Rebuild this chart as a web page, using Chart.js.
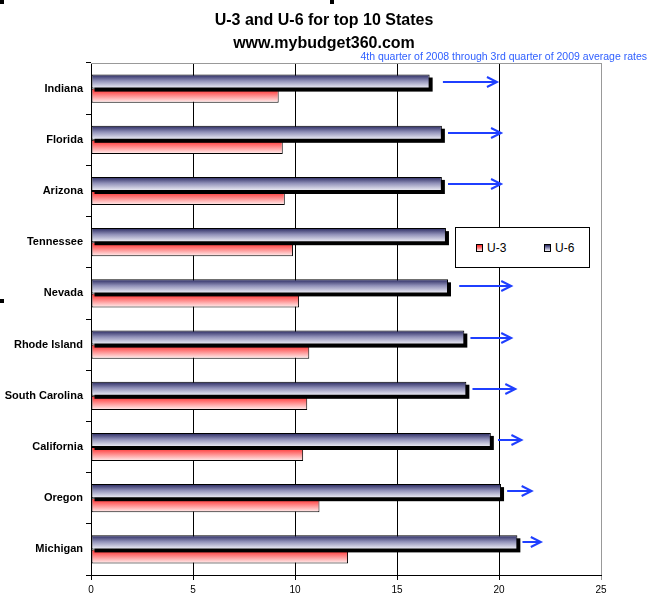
<!DOCTYPE html>
<html>
<head>
<meta charset="utf-8">
<script src="https://cdn.jsdelivr.net/npm/chart.js@4.4.0/dist/chart.umd.min.js"></script>
<style>
  html, body { margin: 0; padding: 0; background: #fff; }
  #wrap { position: relative; width: 666px; height: 602px; }
  canvas { display: block; }
  #legend {
    position: absolute; left: 455px; top: 227px; width: 133px; height: 39px;
    border: 1px solid #000; background: #fff;
    font: 12px Arial, "Liberation Sans", sans-serif; color: #000;
  }
  #legend .item { position: absolute; top: 0; height: 39px; display: flex; align-items: center; }
  #legend .sw { width: 5px; height: 6px; border: 1px solid #000; margin-right: 4px; }
</style>
</head>
<body>
<div id="wrap">
  <canvas id="chart" width="666" height="602"></canvas>
  <div id="legend"></div>
</div>
<script>
// data (percent)
const states = ['Indiana', 'Florida', 'Arizona', 'Tennessee', 'Nevada', 'Rhode Island',
  'South Carolina', 'California', 'Oregon', 'Michigan'];
const u3 = [9.2, 9.4, 9.5, 9.9, 10.2, 10.7, 10.6, 10.4, 11.2, 12.6];
const u6 = [16.6, 17.2, 17.2, 17.4, 17.5, 18.3, 18.4, 19.6, 20.1, 20.9];

// blue arrows next to the U-6 bars (start / end, in axis units)
const arrowFrom = [17.25, 17.5, 17.5, null, 18.05, 18.6, 18.7, 19.95, 20.4, 21.15];
const arrowTo = [19.9, 20.1, 20.1, null, 20.6, 20.6, 20.8, 21.1, 21.6, 22.05];

const titleLines = ['U-3 and U-6 for top 10 States', 'www.mybudget360.com'];
const subtitle = '4th quarter of 2008 through 3rd quarter of 2009 average rates';

const catPct = 0.55;
const FONT = 'Arial, "Liberation Sans", sans-serif';

const colU3 = ['#ff2020', '#ff8080', '#fff4f4'];
const colU6 = ['#26265e', '#9090b8', '#f4f4fa'];

// vertical gradient per bar, computed from the category scale
function barFill(cols) {
  return function(c) {
    const chart = c.chart;
    const ys = chart.scales.y;
    if (!chart.chartArea || !ys || c.dataIndex === undefined) return cols[1];
    const center = ys.getPixelForValue(c.dataIndex);
    const band = (ys.bottom - ys.top) / states.length;
    const t = band * catPct / 2;
    const top = c.datasetIndex === 0 ? center - t : center;
    const g = chart.ctx.createLinearGradient(0, top, 0, top + t);
    g.addColorStop(0, cols[0]);
    g.addColorStop(0.45, cols[1]);
    g.addColorStop(1, cols[2]);
    return g;
  };
}

// black drop shadow behind the U-6 bars
const shadowPlugin = {
  id: 'shadow',
  beforeDatasetDraw(chart, args) {
    if (args.index !== 0) return;
    const ctx = chart.ctx;
    ctx.save();
    ctx.fillStyle = '#000';
    args.meta.data.forEach(el => {
      const p = el.getProps(['x', 'y', 'base', 'height'], true);
      ctx.fillRect(p.base + 3, p.y - p.height / 2 + 3, p.x - p.base, p.height);
    });
    ctx.restore();
  }
};

const decorPlugin = {
  id: 'decor',
  beforeDraw(chart) {
    const ctx = chart.ctx;
    ctx.save();
    ctx.fillStyle = '#fff';
    ctx.fillRect(0, 0, chart.width, chart.height);
    ctx.restore();
  },
  afterDatasetsDraw(chart) {
    const ctx = chart.ctx;
    const area = chart.chartArea;
    const xs = chart.scales.x;
    const meta = chart.getDatasetMeta(0);
    ctx.save();
    // gray frame on top
    ctx.strokeStyle = '#999';
    ctx.lineWidth = 1;
    ctx.beginPath();
    ctx.moveTo(area.left, Math.round(area.top) + 0.5);
    ctx.lineTo(area.right, Math.round(area.top) + 0.5);
    ctx.stroke();
    // arrows
    ctx.strokeStyle = '#1f3fff';
    ctx.lineWidth = 2;
    for (let i = 0; i < states.length; i++) {
      if (arrowFrom[i] == null) continue;
      const y = Math.round(meta.data[i].y);
      const x1 = xs.getPixelForValue(arrowFrom[i]);
      const x2 = xs.getPixelForValue(arrowTo[i]);
      ctx.beginPath();
      ctx.moveTo(x1, y);
      ctx.lineTo(x2, y);
      ctx.moveTo(x2 - 10, y - 5);
      ctx.lineTo(x2, y);
      ctx.lineTo(x2 - 10, y + 5);
      ctx.stroke();
    }
    ctx.restore();
  },
  afterDraw(chart) {
    const ctx = chart.ctx;
    ctx.save();
    ctx.fillStyle = '#000';
    ctx.textAlign = 'center';
    ctx.textBaseline = 'middle';
    ctx.font = 'bold 16px ' + FONT;
    ctx.fillText(titleLines[0], 324, 21);
    ctx.fillText(titleLines[1], 324, 44);
    ctx.fillStyle = '#3060ff';
    ctx.font = '10.5px ' + FONT;
    ctx.textAlign = 'right';
    ctx.fillText(subtitle, 647, 57);
    // selection handles
    ctx.fillStyle = '#000';
    ctx.fillRect(0, 0, 4, 4);
    ctx.fillRect(330, 0, 4, 4);
    ctx.fillRect(0, 299, 4, 4);
    ctx.restore();
  }
};

const chart = new Chart(document.getElementById('chart'), {
  type: 'bar',
  data: {
    labels: states,
    datasets: [
      {
        label: 'U-6',
        data: u6,
        backgroundColor: barFill(colU6),
        borderColor: '#000',
        borderWidth: 1,
        borderSkipped: false,
        categoryPercentage: catPct,
        barPercentage: 1
      },
      {
        label: 'U-3',
        data: u3,
        backgroundColor: barFill(colU3),
        borderColor: '#000',
        borderWidth: 1,
        borderSkipped: false,
        categoryPercentage: catPct,
        barPercentage: 1
      }
    ]
  },
  options: {
    indexAxis: 'y',
    responsive: false,
    animation: false,
    layout: { padding: { top: 63, right: 65, bottom: 0, left: 0 } },
    plugins: {
      legend: { display: false },
      title: { display: false },
      tooltip: { enabled: false }
    },
    scales: {
      x: {
        type: 'linear',
        min: 0,
        max: 25,
        ticks: { stepSize: 5, color: '#000', padding: 4, font: { family: FONT, size: 10 } },
        grid: {
          color: c => (c.tick && c.tick.value === 25 ? '#999' : '#000'),
          tickLength: 5,
          lineWidth: 1
        },
        border: { color: '#000' },
        afterFit: s => { s.height = 27; }
      },
      y: {
        type: 'category',
        offset: true,
        ticks: { color: '#000', padding: 3, font: { family: FONT, size: 11, weight: 'bold' } },
        grid: { drawOnChartArea: false, offset: true, tickLength: 5, color: '#000' },
        border: { color: '#000' },
        afterFit: s => { s.width = 91; }
      }
    }
  },
  plugins: [shadowPlugin, decorPlugin]
});

// legend (U-3 first, as in the original)
const legendItems = [
  { name: 'U-3', cols: colU3, left: 20 },
  { name: 'U-6', cols: colU6, left: 88 }
];
const legendEl = document.getElementById('legend');
legendItems.forEach(it => {
  const d = document.createElement('div');
  d.className = 'item';
  d.style.left = it.left + 'px';
  const sw = document.createElement('span');
  sw.className = 'sw';
  sw.style.background = 'linear-gradient(' + it.cols.join(',') + ')';
  const tx = document.createElement('span');
  tx.textContent = it.name;
  d.appendChild(sw);
  d.appendChild(tx);
  legendEl.appendChild(d);
});
</script>
</body>
</html>
